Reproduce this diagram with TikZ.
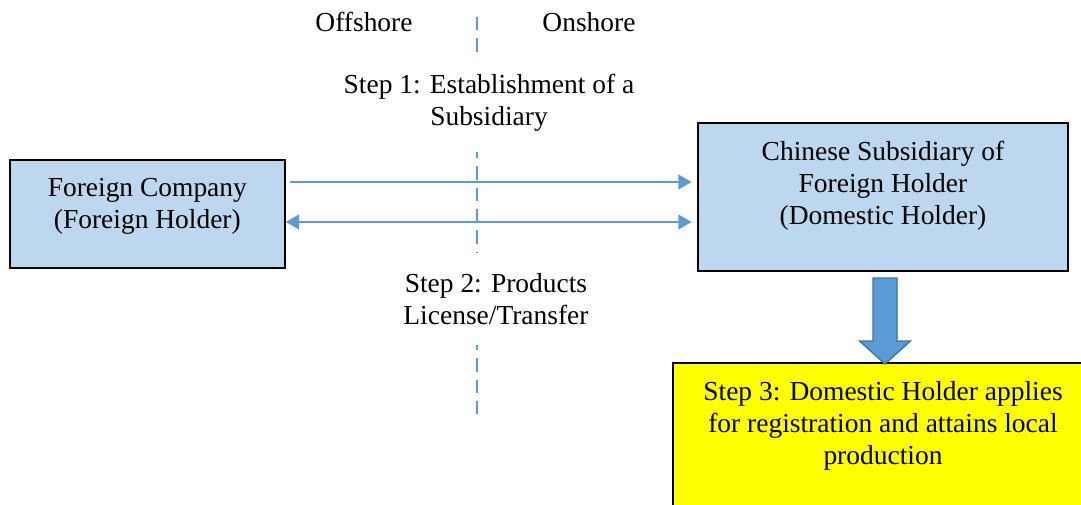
\documentclass[tikz,border=0pt]{standalone}
\usepackage{fontspec}
\setmainfont{Liberation Serif}
\usetikzlibrary{shapes,arrows.meta,positioning,calc}
\definecolor{boxblue}{RGB}{189,215,238}
\definecolor{lineblue}{RGB}{91,155,213}
\definecolor{arrowedge}{RGB}{65,113,156}
\definecolor{stepyellow}{RGB}{255,255,0}
% text sits at the top of a fixed-size box
\newcommand{\boxtext}[3]{\parbox[c][#1][t]{#2}{\centering\vspace*{13.5pt}#3\par}}

\begin{document}
\begin{tikzpicture}[x=0.75pt,y=-0.75pt,% pixel-like units, y grows downward
        every node/.style={
            align=center,   % so that "\\" breaks the line
            font=\fontsize{20.6}{24}\selectfont
        },
        block/.style={rectangle,draw=black,line width=1.5pt,inner sep=0pt,anchor=north west},
        steplabel/.style={fill=white,inner ysep=15pt},
        flow/.style={draw=lineblue,line width=1.5pt},
        divider/.style={draw=lineblue,line width=1.5pt,dash pattern=on 10pt off 6pt}
    ]
    \clip (0,0) rectangle (1081,504);
    % offshore / onshore border
    \coordinate (D1) at (477,17);
    \coordinate (D2) at (477,418);
    \draw[divider] (D1) -- (D2);
    \node (Off) at (364,22) {Offshore};
    \node (On) at (589,22) {Onshore};
    % the three parties
    \node[block,fill=boxblue](FC) at (9,159) {\boxtext{81pt}{206pt}{Foreign Company\\(Foreign Holder)}};
    \node[block,fill=boxblue](CS) at (697,122) {\boxtext{111pt}{277.5pt}{Chinese Subsidiary of\\Foreign Holder\\(Domestic Holder)}};
    \node[block,fill=stepyellow](S3) at (672,362) {\boxtext{113pt}{315pt}{Step 3: Domestic Holder applies\\for registration and attains local\\production}};
    % step labels over the border
    \node[steplabel](L1) at (489,103) {Step 1: Establishment of a\\Subsidiary};
    \node[steplabel](L2) at (496,299) {Step 2: Products\\License/Transfer};
    \draw[flow,-{Triangle[length=10pt,width=11pt]},shorten <=3pt,shorten >=4pt]
        ([yshift=24pt]FC.east) -- ([yshift=24pt]FC.east -| CS.west);
    \draw[flow,{Triangle[length=10pt,width=11pt]}-{Triangle[length=10pt,width=11pt]},shorten >=4pt]
        ([yshift=-6pt]FC.east) -- ([yshift=-6pt]FC.east -| CS.west);
    % block arrow down to step 3
    \draw[fill=lineblue,draw=arrowedge,line width=1pt]
        ($(CS.south)+(-10,6)$) -- ++(24,0) -- ++(0,63) -- ++(13.5,0) -- ++(-25.5,23)
        -- ++(-25.5,-23) -- ++(13.5,0) -- cycle;
\end{tikzpicture}
\end{document}
